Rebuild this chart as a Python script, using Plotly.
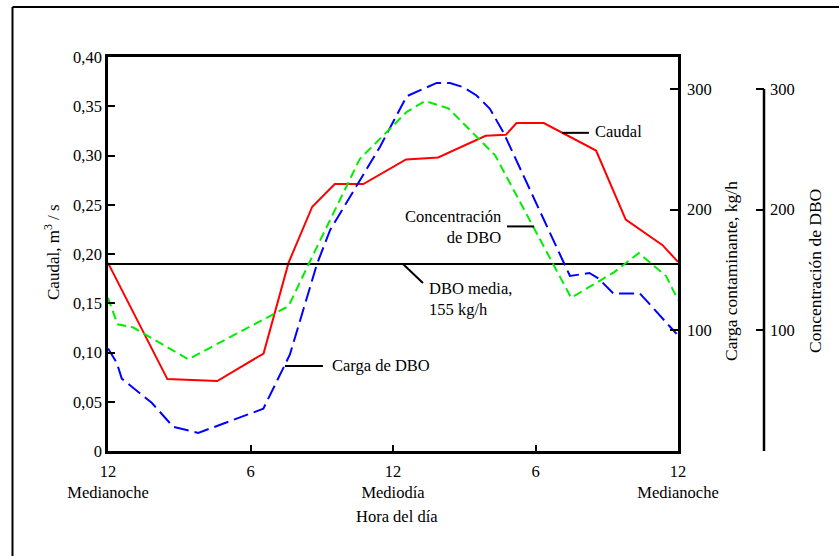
import plotly.graph_objects as go

# ---------------- data ----------------
hours_caudal = [0, 2.5, 4.6, 6.55, 7.6, 8.6, 9.55, 10.75, 12.55, 13.9, 15.9, 16.75, 17.2, 18.35, 20.55, 21.8, 23.35, 24]
caudal = [0.191, 0.073, 0.071, 0.099, 0.191, 0.248, 0.271, 0.271, 0.296, 0.298, 0.320, 0.321, 0.333, 0.333, 0.305, 0.235, 0.209, 0.192]

hours_carga = [0, 0.37, 0.58, 1.14, 1.84, 2.75, 3.8, 6.54, 7.66, 8.8, 9.35, 11.45, 12.58, 13.84, 14.4, 14.96, 15.52, 16.08, 16.65, 19.45, 19.8, 20.27, 20.65, 21.28, 22.4, 23.94]
carga = [85, 73, 60, 51, 40, 20, 15, 35, 80, 155, 183, 252, 294, 305, 305, 301.5, 294.6, 283.6, 264, 145, 146, 147.5, 143, 130.5, 130.5, 97]

hours_conc = [0, 0.4, 1.05, 3.38, 7.6, 8.45, 10.6, 12.58, 13.35, 14.33, 16.3, 19.5, 21.3, 22.35, 23.5, 24]
conc = [127, 105, 102.5, 76, 120, 155, 242, 281, 290, 284, 245, 127, 148, 164, 145, 125]

mean_hours = [0, 24]
mean_carga = [155, 155]

x_tickvals = [0, 6, 12, 18, 24]
x_ticktext = ["12<br>Medianoche", "6", "12<br>Mediodía", "6", "12<br>Medianoche"]
y_tickvals = [0, 0.05, 0.10, 0.15, 0.20, 0.25, 0.30, 0.35, 0.40]
y_ticktext = ["0", "0,05", "0,10", "0,15", "0,20", "0,25", "0,30", "0,35", "0,40"]
load_tickvals = [100, 200, 300]
conc_tickvals = [0, 100, 200, 300]
conc_ticktext = [" ", "100", "200", "300"]

# ---------------- layout geometry ----------------
W, H = 839, 556
L, R, T, B = 108, 20, 57, 105
PW = W - L - R
PH = H - T - B
X_END = 570 / PW


def fx(p):
    return (p - L) / PW


def fy(p):
    return (T + PH - p) / PH


FAMILY = "Liberation Serif, Times New Roman, serif"
FONT = dict(family=FAMILY, size=16.5, color="black")
TITLE_FONT = dict(family=FAMILY, size=17.5, color="black")

fig = go.Figure()
fig.add_trace(go.Scatter(x=mean_hours, y=mean_carga, yaxis="y2", mode="lines",
                         line=dict(color="black", width=2), hoverinfo="skip"))
fig.add_trace(go.Scatter(x=hours_conc, y=conc, yaxis="y3", mode="lines",
                         line=dict(color="#00ee00", width=2, dash="9px,5px")))
fig.add_trace(go.Scatter(x=hours_carga, y=carga, yaxis="y2", mode="lines",
                         line=dict(color="#0000ff", width=2, dash="15px,6px")))
fig.add_trace(go.Scatter(x=hours_caudal, y=caudal, yaxis="y", mode="lines",
                         line=dict(color="#ff0000", width=2)))

axis_common = dict(showgrid=False, zeroline=False, ticks="inside", tickcolor="black",
                   tickfont=FONT, linecolor="black", automargin=False)

fig.update_layout(
    width=W, height=H,
    margin=dict(l=L, r=R, t=T, b=B, pad=0, autoexpand=False),
    paper_bgcolor="white", plot_bgcolor="white",
    showlegend=False,
    font=FONT,
    xaxis=dict(domain=[0, X_END], range=[0, 24], tickvals=x_tickvals, ticktext=x_ticktext,
               showline=True, linewidth=2.5, mirror=True, ticklen=6, tickwidth=2,
               ticklabelstandoff=3, **axis_common),
    yaxis=dict(range=[0, 0.40], tickvals=y_tickvals, ticktext=y_ticktext,
               showline=True, linewidth=2.5, ticklen=7, tickwidth=2, **axis_common),
    yaxis2=dict(range=[0, 326.5], overlaying="y", side="right", anchor="x",
                tickvals=load_tickvals, showline=True, linewidth=2.5, ticklen=8, tickwidth=2,
                ticklabelstandoff=3, **axis_common),
    yaxis3=dict(range=[0, 326.5], overlaying="y", side="right", anchor="free",
                position=fx(764), tickvals=conc_tickvals, ticktext=conc_ticktext,
                showline=False, ticklen=8, tickwidth=2, ticklabelstandoff=5, **axis_common),
)

# third axis line only spans 0..300
fig.add_shape(type="line", xref="paper", yref="y3", x0=fx(764), x1=fx(764), y0=0, y1=300,
              line=dict(color="black", width=2.5))

# outer frame (left and top)
fig.add_shape(type="line", xref="paper", yref="paper", x0=fx(12.5), x1=fx(12.5), y0=fy(7), y1=fy(560),
              line=dict(color="black", width=2))
fig.add_shape(type="line", xref="paper", yref="paper", x0=fx(12.5), x1=fx(845), y0=fy(7), y1=fy(7),
              line=dict(color="black", width=2))

# leader lines
leaders = [
    ((19.12, 0.323), (20.25, 0.323)),
    ((16.8, 0.228), (17.94, 0.228)),
    ((12.42, 0.1898), (13.26, 0.1706)),
    ((7.45, 0.0863), (9.05, 0.0863)),
]
for (x0, y0), (x1, y1) in leaders:
    fig.add_shape(type="line", xref="x", yref="y", x0=x0, y0=y0, x1=x1, y1=y1,
                  line=dict(color="black", width=2))

notes = [
    dict(x=20.42, y=0.324, text="Caudal", xanchor="left", align="left"),
    dict(x=16.63, y=0.227, text="Concentración<br>de DBO", xanchor="right", align="right"),
    dict(x=13.43, y=0.154, text="DBO media,<br>155 kg/h", xanchor="left", align="left"),
    dict(x=9.35, y=0.0863, text="Carga de DBO", xanchor="left", align="left"),
]
for n in notes:
    fig.add_annotation(xref="x", yref="y", showarrow=False, yanchor="middle", font=FONT, **n)

titles = [
    dict(x=fx(52), y=fy(252), text="Caudal, m<sup>3</sup> / s", textangle=-90,
         font=dict(family=FAMILY, size=17, color="black")),
    dict(x=fx(731), y=fy(271), text="Carga contaminante, kg/h", textangle=-90, font=TITLE_FONT),
    dict(x=fx(815), y=fy(271), text="Concentración de DBO", textangle=-90, font=TITLE_FONT),
    dict(x=fx(397), y=fy(516), text="Hora del día", textangle=0, font=FONT),
]
for t in titles:
    fig.add_annotation(xref="paper", yref="paper", showarrow=False, xanchor="center",
                       yanchor="middle", **t)

fig.write_html("out.html")
